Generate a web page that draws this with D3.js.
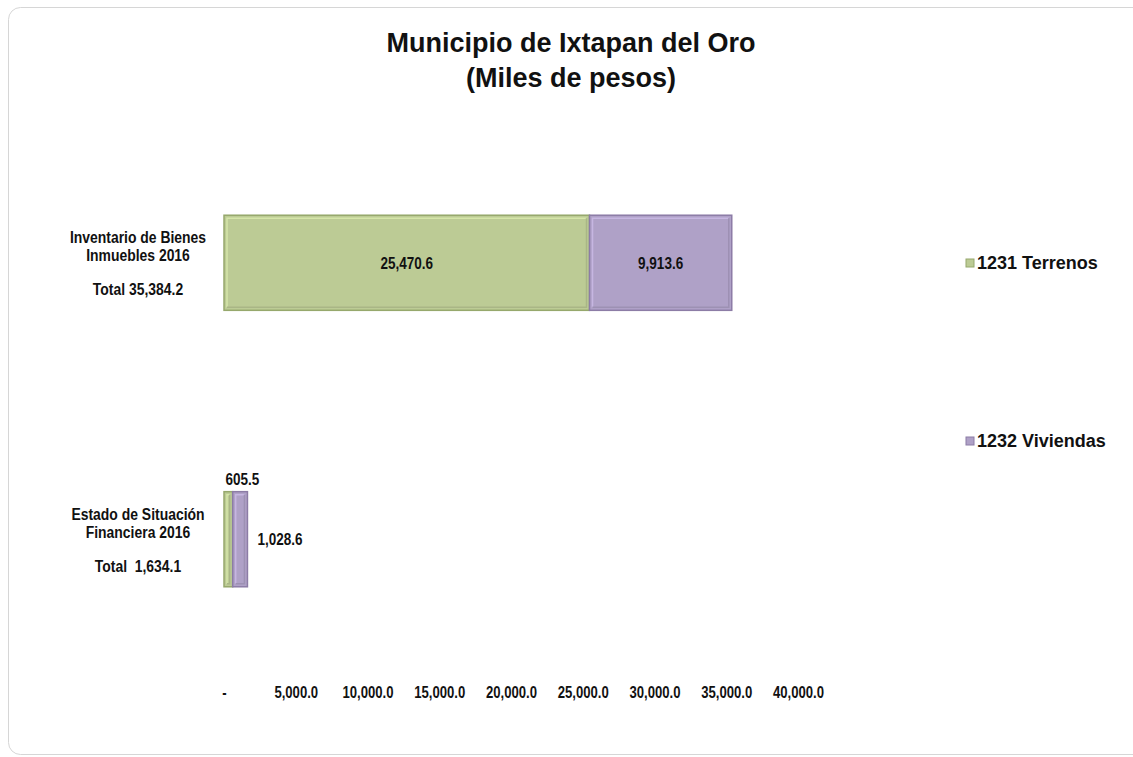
<!DOCTYPE html>
<html>
<head>
<meta charset="utf-8">
<script src="https://cdn.jsdelivr.net/npm/d3@7"></script>
<style>
  body { margin: 0; background: #fff; }
  text { font-family: "Liberation Sans", Arial, sans-serif; font-weight: bold; fill: #111; white-space: pre; }
</style>
</head>
<body>
<div id="chart"></div>
<script>
// data
const categories = ['Inventario de Bienes Inmuebles 2016', 'Estado de Situación Financiera 2016'];
const catLines = [['Inventario de Bienes', 'Inmuebles 2016'], ['Estado de Situación', 'Financiera 2016']];
const catTotals = ['Total 35,384.2', 'Total  1,634.1'];
const seriesNames = ['1231 Terrenos', '1232 Viviendas'];
const terrenos = [25470.6, 605.5];
const viviendas = [9913.6, 1028.6];
const xTicks = [0, 5000, 10000, 15000, 20000, 25000, 30000, 35000, 40000];

const width = 1133, height = 757;
const colors = ['#bccb95', '#afa1c7'];
const borders = ['#96a86c', '#8c7ca6'];
const narrow = 0.82; // squeeze text to look like Arial Narrow

const svg = d3.select('#chart').append('svg')
    .attr('width', width)
    .attr('height', height);

// outer frame, rounded corners
svg.append('rect')
    .attr('x', 8.5).attr('y', 7.5)
    .attr('width', 1140).attr('height', 747)
    .attr('rx', 12)
    .attr('fill', 'none')
    .attr('stroke', '#d6d6d6');

// title
svg.append('text')
    .attr('x', 571).attr('y', 52)
    .attr('text-anchor', 'middle')
    .style('font-size', '27px')
    .text('Municipio de Ixtapan del Oro');
svg.append('text')
    .attr('x', 571).attr('y', 87)
    .attr('text-anchor', 'middle')
    .style('font-size', '27px')
    .text('(Miles de pesos)');

let x = d3.scaleLinear()
    .domain([0, 40000])
    .range([224, 798]);

let y = d3.scaleBand()
    .domain(categories)
    .range([77, 725])
    .paddingInner(0.656)
    .paddingOuter(0.5);

const stackData = categories.map((c, i) => ({cat: c, terrenos: terrenos[i], viviendas: viviendas[i]}));
const stacked = d3.stack().keys(['terrenos', 'viviendas'])(stackData);

stacked.forEach((layer, si) => {
    layer.forEach((d, i) => {
        const x0 = x(d[0]), x1 = x(d[1]);
        const y0 = y(categories[i]), bh = y.bandwidth();
        const w = x1 - x0;
        svg.append('rect')
            .attr('x', x0).attr('y', y0)
            .attr('width', w).attr('height', bh)
            .attr('fill', colors[si])
            .attr('stroke', borders[si])
            .attr('stroke-width', 1.5);
        // bevel look: light top/left, darker bottom/right
        if (w > 8) {
            svg.append('path')
                .attr('d', `M${x0 + 3},${y0 + bh - 3} L${x0 + 3},${y0 + 3} L${x1 - 3},${y0 + 3}`)
                .attr('fill', 'none')
                .attr('stroke', d3.color(colors[si]).brighter(0.35))
                .attr('stroke-width', 1.5);
            svg.append('path')
                .attr('d', `M${x0 + 3},${y0 + bh - 3} L${x1 - 3},${y0 + bh - 3} L${x1 - 3},${y0 + 3}`)
                .attr('fill', 'none')
                .attr('stroke', d3.color(colors[si]).darker(0.3))
                .attr('stroke-width', 1.5);
        }
    });
});

// helper: narrow text placed at (tx, ty)
function narrowText(tx, ty, str, size, anchor) {
    return svg.append('g')
        .attr('transform', `translate(${tx},${ty}) scale(${narrow},1)`)
        .append('text')
        .attr('text-anchor', anchor || 'middle')
        .style('font-size', size + 'px')
        .text(str);
}

// value labels
const fmt = d3.format(',.1f');
stacked.forEach(layer => {
    const d = layer[0];
    narrowText((x(d[0]) + x(d[1])) / 2, y(categories[0]) + y.bandwidth() / 2 + 6, fmt(d[1] - d[0]), 16.5);
});
// second bar is tiny, labels go outside
{
    const d = stacked[0][1];
    narrowText((x(d[0]) + x(d[1])) / 2 + 14, y(categories[1]) - 7, fmt(d[1] - d[0]), 16.5);
    const e = stacked[1][1];
    narrowText(x(e[1]) + 10, y(categories[1]) + y.bandwidth() / 2 + 6, fmt(e[1] - e[0]), 16.5, 'start');
}

// category labels
categories.forEach((c, i) => {
    const cy = y(c);
    narrowText(138, cy + 28, catLines[i][0], 17);
    narrowText(138, cy + 46, catLines[i][1], 17);
    narrowText(138, cy + 80, catTotals[i], 17);
});

// x axis, labels only
const xAxis = d3.axisBottom(x)
    .tickValues(xTicks)
    .tickSize(0)
    .tickFormat(v => v === 0 ? '-' : fmt(v));
const ax = svg.append('g')
    .attr('transform', 'translate(0,684)')
    .call(xAxis);
ax.select('.domain').remove();
ax.selectAll('text')
    .style('font-size', '16px')
    .attr('fill', '#111')
    .attr('transform', `scale(${narrow},1)`);

// legend
const legY = [263, 441];
seriesNames.forEach((s, i) => {
    svg.append('rect')
        .attr('x', 966).attr('y', legY[i] - 4)
        .attr('width', 8).attr('height', 8)
        .attr('fill', colors[i])
        .attr('stroke', borders[i])
        .attr('stroke-width', 1);
    svg.append('text')
        .attr('x', 977).attr('y', legY[i] + 6)
        .style('font-size', '18px')
        .text(s);
});
</script>
</body>
</html>
